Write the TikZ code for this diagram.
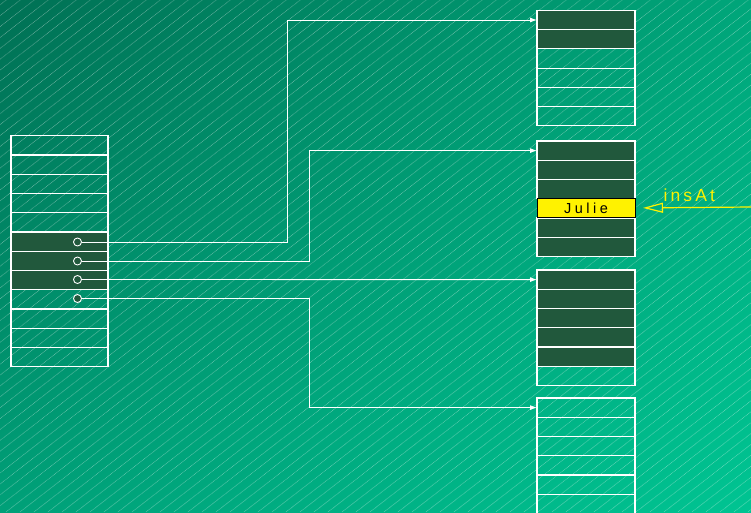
\documentclass[tikz,border=0pt]{standalone}
\usepackage{fontspec}
\setmainfont{Liberation Sans}
\newfontfamily\spaced[LetterSpace=18]{Liberation Sans}
\newfontfamily\spacedw[LetterSpace=24]{Liberation Sans}
\usetikzlibrary{arrows.meta,shadings}
\definecolor{cellDark}{RGB}{33,88,60}
\definecolor{bgTL}{RGB}{0,112,84}
\definecolor{bgTR}{RGB}{0,166,122}
\definecolor{bgBL}{RGB}{0,160,120}
\definecolor{bgBR}{RGB}{0,196,146}
\tikzset{
  cell/.style={draw=white,line width=1.1pt},
  darkcell/.style={cell,fill=cellDark},
  link/.style={draw=white,line width=0.9pt,-{Latex[length=7pt,width=5pt]}},
  ptr/.style={circle,draw=white,fill=cellDark,line width=0.9pt,inner sep=0pt,minimum size=8pt},
  hatch/.style={white,opacity=0.4,line width=0.5pt,dash pattern=on 1pt off 0.6pt}
}
\begin{document}
\begin{tikzpicture}[x=1pt,y=-1pt]
\useasboundingbox (0,0) rectangle (751,512);

% background
\shade[upper left=bgTL,upper right=bgTR,lower left=bgBL,lower right=bgBR] (0,0) rectangle (751,512);
\begin{scope}
\clip (0,0) rectangle (751,512);
\foreach \i in {-30,...,85}
  \draw[hatch] (\i*14-400,512) -- ++(1080,-840);
\end{scope}

% left array
\def\h{19.25}
\foreach \r in {0,...,11}{
  \ifnum\r>4 \ifnum\r<8
    \draw[darkcell] (11,135.7+\r*\h) rectangle (108,135.7+\r*\h+\h);
  \else
    \draw[cell] (11,135.7+\r*\h) rectangle (108,135.7+\r*\h+\h);
  \fi\else
    \draw[cell] (11,135.7+\r*\h) rectangle (108,135.7+\r*\h+\h);
  \fi
}

% pointers
\node[ptr] (p1) at (77.5,242) {};
\node[ptr] (p2) at (77.5,261) {};
\node[ptr] (p3) at (77.5,279.5) {};
\node[ptr] (p4) at (77.5,298.5) {};

% right arrays (top y, number of dark cells from top)
\foreach \t/\n in {10.3/2,270/5,398/0}{
  \foreach \r in {0,...,5}{
    \ifnum\r<\n
      \draw[darkcell] (537,\t+\r*\h) rectangle (635,\t+\r*\h+\h);
    \else
      \draw[cell] (537,\t+\r*\h) rectangle (635,\t+\r*\h+\h);
    \fi
  }
}
\foreach \r in {0,1,2,4,5}
  \draw[darkcell] (537,141+\r*\h) rectangle (635,141+\r*\h+\h);
\node[draw=black,fill=yellow,line width=1pt,minimum width=98pt,minimum height=\h pt,inner sep=0pt,
  font=\spacedw\fontsize{14.5}{14.5}\selectfont] (julie) at (586,207.9) {Julie};

\coordinate (a1) at (537,20);
\coordinate (a2) at (537,150.6);
\coordinate (a3) at (537,279.6);
\coordinate (a4) at (537,407.6);

% links
\draw[link] (p1.east) -- (p1 -| 287,0) |- (a1);
\draw[link] (p2.east) -- (p2 -| 309,0) |- (a2);
\draw[link] (p3.east) -- (a3);
\draw[link] (p4.east) -- (p4 -| 309,0) |- (a4);

% insAt
\coordinate (ins) at (751,207);
\draw[yellow,line width=1.2pt,-{Triangle[open,length=20pt,width=10pt]}] (ins) -- (julie.east -| 643,0);
\node[yellow,font=\spaced\fontsize{17.5}{17.5}\selectfont,anchor=base west] (lbl) at (660,201) {insAt};
\end{tikzpicture}
\end{document}
